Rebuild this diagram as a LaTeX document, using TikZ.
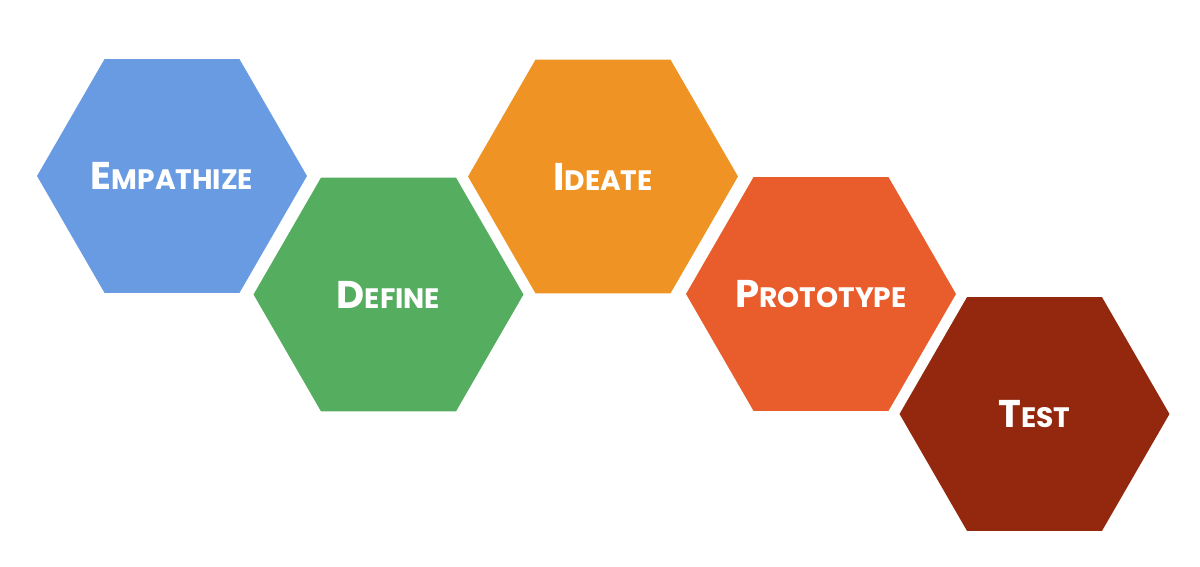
\documentclass[tikz,border=0pt]{standalone}
\usepackage{fontspec}
\setmainfont{Poppins}
\usetikzlibrary{shapes.geometric}

\definecolor{empblue}{RGB}{104,155,226}
\definecolor{defgreen}{RGB}{85,173,96}
\definecolor{ideorange}{RGB}{239,148,36}
\definecolor{proorange}{RGB}{233,93,44}
\definecolor{testred}{RGB}{147,40,14}

\newcommand{\capword}[2]{{\fontsize{22}{22}\selectfont #1}{\fontsize{16}{16}\selectfont #2}}

\begin{document}
\begin{tikzpicture}[x=0.02cm,y=-0.02cm]
\tikzstyle{hexa}=[regular polygon,regular polygon sides=6,minimum size=5.4cm,inner sep=0pt,outer sep=0pt]
\tikzstyle{hexlabel}=[text=white,font=\bfseries,inner sep=0pt]
\useasboundingbox[fill=white] (0,0) rectangle (1200,567);

\node[hexa,fill=empblue] (empathize) at (172,176) {};
\node[hexa,fill=defgreen] (define) at (388.5,294.5) {};
\node[hexa,fill=ideorange] (ideate) at (603,176.5) {};
\node[hexa,fill=proorange] (prototype) at (821,294) {};
\node[hexa,fill=testred] (test) at (1034.5,414) {};

\node[hexlabel] (empathize text) at (empathize) {\capword{E}{MPATHIZE}};
\node[hexlabel] (define text) at (define) {\capword{D}{EFINE}};
\node[hexlabel] (ideate text) at (ideate) {\capword{I}{DEATE}};
\node[hexlabel] (prototype text) at (prototype) {\capword{P}{ROTOTYPE}};
\node[hexlabel] (test text) at (test) {\capword{T}{EST}};
\end{tikzpicture}
\end{document}
